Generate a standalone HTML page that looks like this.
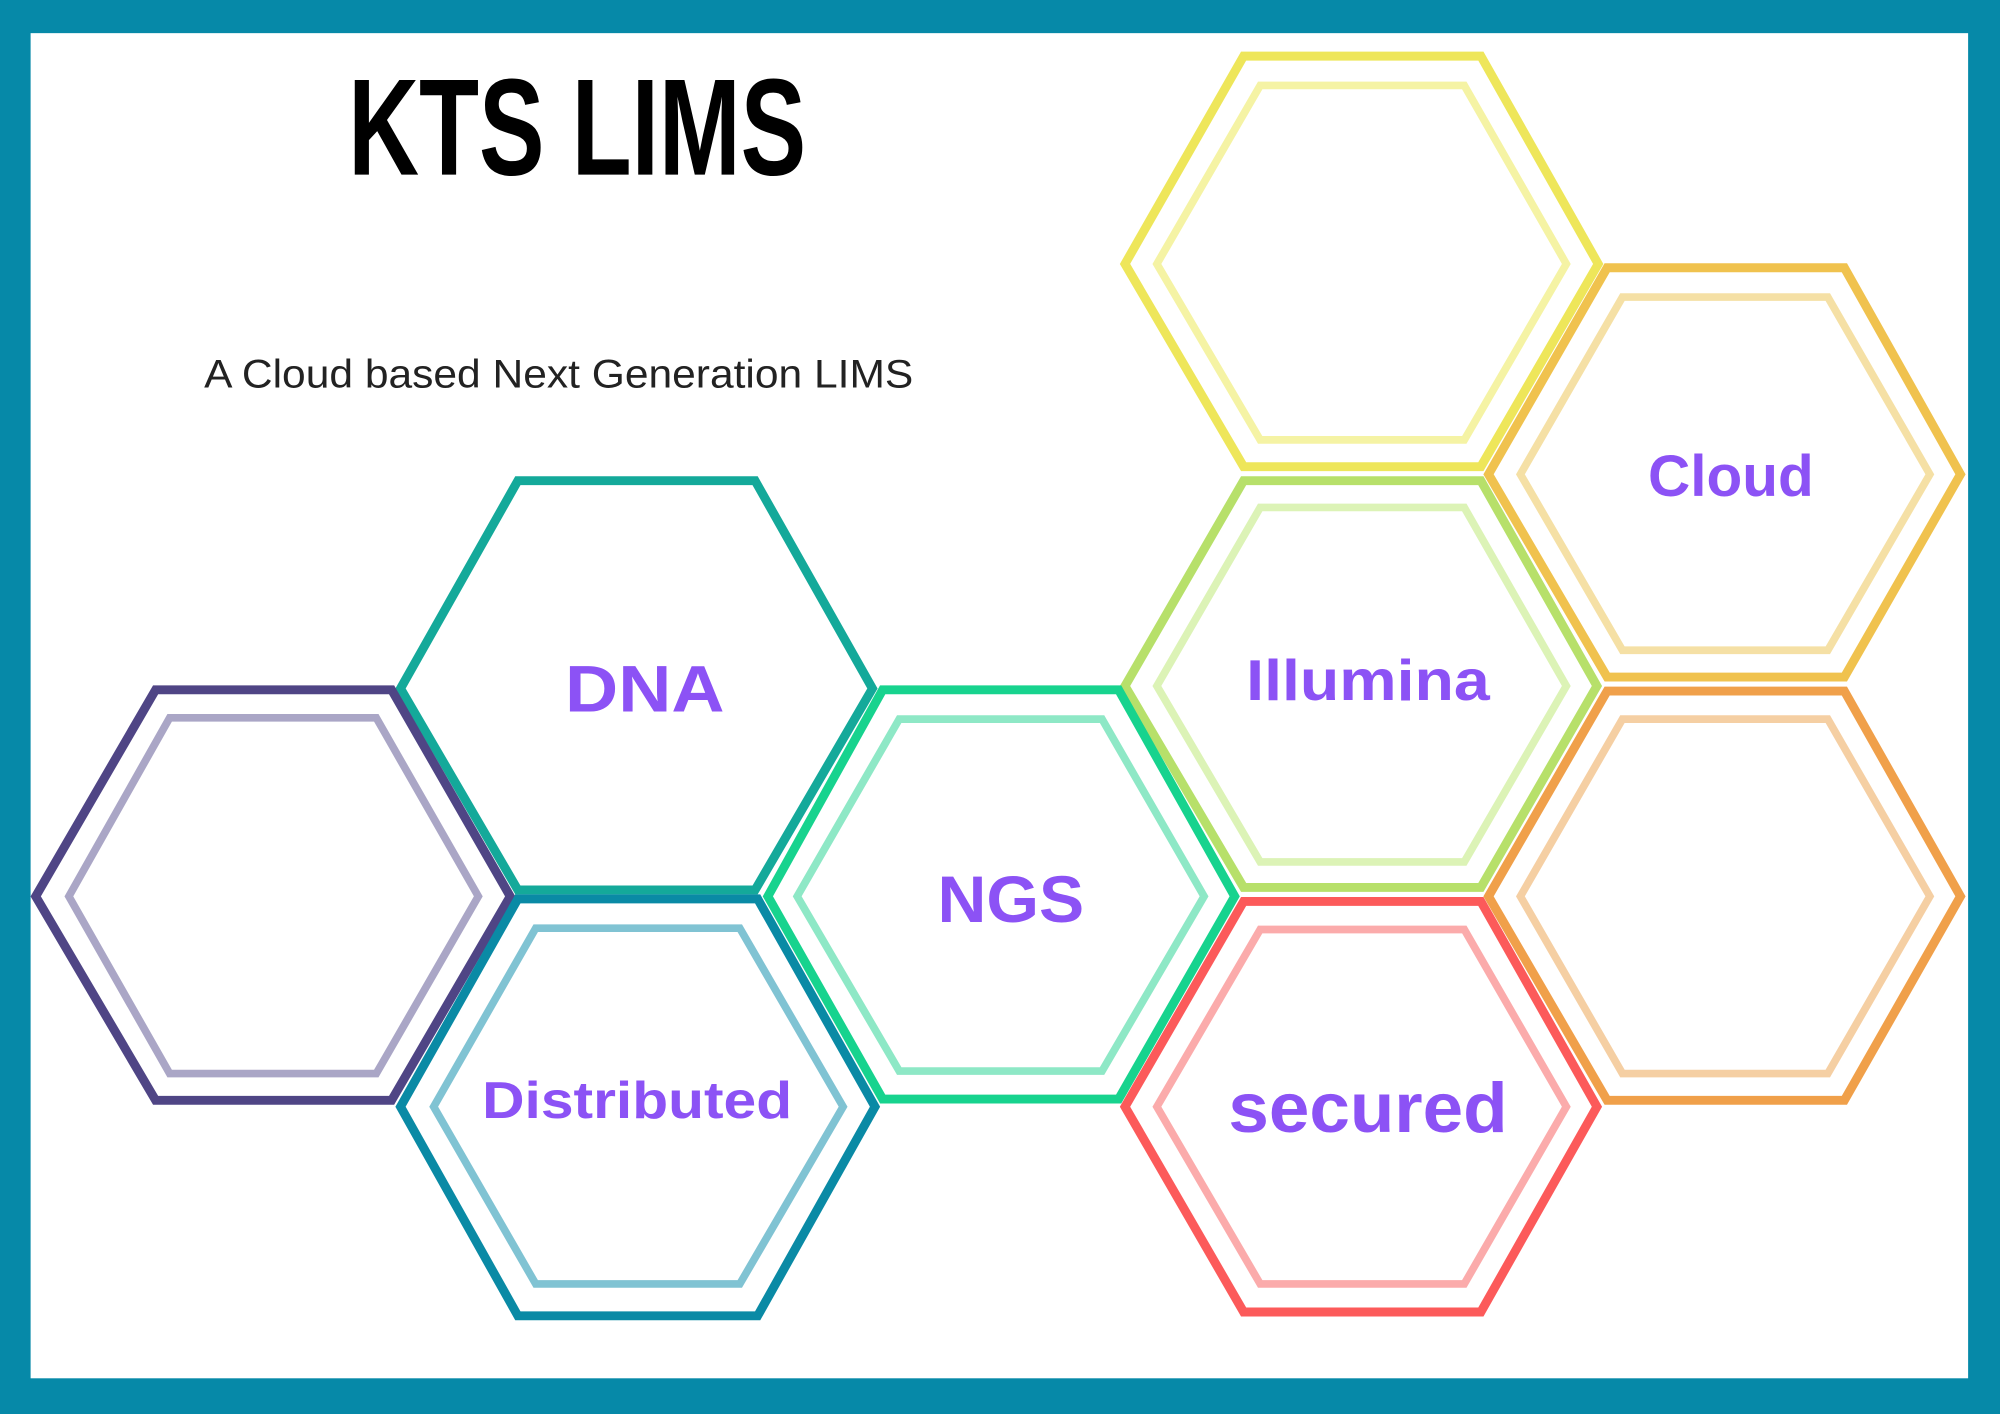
<!DOCTYPE html>
<html><head><meta charset="utf-8"><style>html,body{margin:0;padding:0;background:#fff}svg{display:block}</style></head>
<body>
<svg width="2000" height="1414" viewBox="0 0 1568 1109" preserveAspectRatio="none" xmlns="http://www.w3.org/2000/svg">
<rect x="0" y="0" width="1568" height="1109" fill="#0689a8"/>
<rect x="24" y="26" width="1519" height="1055" fill="#fff"/>
<g fill="none" stroke-linejoin="miter">
<polygon points="975,44 1161,44 1253,207 1161,366 975,366 882,207" stroke="#eee65a" stroke-width="7"/>
<polygon points="988,67 1148,67 1228,207 1148,345 988,345 907,207" stroke="#f5f3a4" stroke-width="6"/>
<polygon points="1260,210 1446,210 1537,372 1446,531 1260,531 1167,372" stroke="#f0c24e" stroke-width="7"/>
<polygon points="1272,233 1433,233 1513,372 1433,510 1272,510 1192,372" stroke="#f5e0a5" stroke-width="6"/>
<polygon points="1260,542 1446,542 1537,703 1446,863 1260,863 1167,703" stroke="#f0a04a" stroke-width="7"/>
<polygon points="1272,564 1433,564 1513,703 1433,842 1272,842 1192,703" stroke="#f5cfa3" stroke-width="6"/>
<polygon points="975,377 1161,377 1252,538 1161,696 975,696 882,538" stroke="#b7e06a" stroke-width="7"/>
<polygon points="988,398 1148,398 1228,538 1148,676 988,676 907,538" stroke="#dcf3b6" stroke-width="6"/>
<polygon points="975,707 1161,707 1252,868 1161,1029 975,1029 882,868" stroke="#fc5a5a" stroke-width="7"/>
<polygon points="988,729 1148,729 1228,868 1148,1007 988,1007 907,868" stroke="#fbabab" stroke-width="6"/>
<polygon points="406,377 592,377 684,540 592,698 406,698 314,540" stroke="#14a99a" stroke-width="7"/>
<polygon points="122,541 307,541 400,703 307,863 122,863 28,703" stroke="#4f4585" stroke-width="7"/>
<polygon points="133,563 295,563 375,703 295,842 133,842 54,703" stroke="#aaa6c6" stroke-width="6"/>
<polygon points="406,705 594,705 686,868 594,1032 406,1032 314,868" stroke="#0a8aa5" stroke-width="7"/>
<polygon points="420,728 580,728 661,868 580,1007 420,1007 340,868" stroke="#80c3d3" stroke-width="6"/>
<polygon points="692,541 877,541 968,703 877,862 692,862 602,703" stroke="#17d38e" stroke-width="7"/>
<polygon points="705,564 864,564 944,703 864,840 705,840 625,703" stroke="#8ee8c6" stroke-width="6"/>
</g>
<g font-family="'Liberation Sans', sans-serif" font-weight="bold" fill="#8c52f5" lengthAdjust="spacingAndGlyphs">
<text x="443" y="558" font-size="52" textLength="125" lengthAdjust="spacingAndGlyphs">DNA</text>
<text x="735" y="723" font-size="52" textLength="115" lengthAdjust="spacingAndGlyphs">NGS</text>
<text x="378" y="877" font-size="41" textLength="243" lengthAdjust="spacingAndGlyphs">Distributed</text>
<text x="977" y="549" font-size="45" textLength="191" lengthAdjust="spacingAndGlyphs">Illumina</text>
<text x="963" y="888" font-size="55" textLength="219" lengthAdjust="spacingAndGlyphs">secured</text>
<text x="1292" y="389" font-size="46" textLength="130" lengthAdjust="spacingAndGlyphs">Cloud</text>
</g>
<text x="273" y="137" font-family="'Liberation Sans', sans-serif" font-weight="bold" font-size="108" textLength="359" lengthAdjust="spacingAndGlyphs" fill="#000">KTS LIMS</text>
<text x="160" y="304" font-family="'Liberation Sans', sans-serif" font-size="31" textLength="556" lengthAdjust="spacingAndGlyphs" fill="#222">A Cloud based Next Generation LIMS</text>
</svg>
</body></html>
